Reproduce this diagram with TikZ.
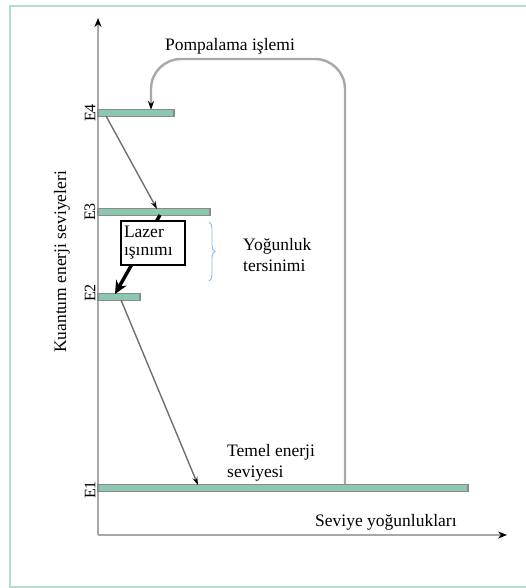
\documentclass[tikz,border=0pt]{standalone}
\usepackage{fontspec}
\setmainfont{Liberation Serif}
\usetikzlibrary{arrows.meta,decorations.pathreplacing}
\definecolor{framecol}{HTML}{B4DDD0}
\definecolor{barfill}{HTML}{8CC7B0}
\definecolor{bargray}{HTML}{8A8A8A}
\definecolor{axisgray}{HTML}{A8A8A8}
\definecolor{linegray}{HTML}{707070}
\definecolor{bracecol}{HTML}{8DB8E2}
\begin{document}
\begin{tikzpicture}[x=1pt,y=-1pt,
  every node/.style={font=\fontsize{17.5}{21}\selectfont},
  bar/.style={draw=bargray, line width=1.1pt, fill=barfill, minimum height=6.5pt, inner sep=0pt},
  axisline/.style={draw=axisgray, line width=2.6pt, -{Stealth[length=9pt,width=7pt,black]}},
  trans/.style={draw=linegray, line width=1.4pt, -{Stealth[length=8pt,width=5pt,black]}},
  pumpline/.style={draw=axisgray, line width=2.4pt, rounded corners=30pt, -{Stealth[length=9pt,width=6pt,black]}},
  lasertip/.style={draw=black, line width=3.4pt, -{Stealth[length=13pt,width=12pt]}},
  elabel/.style={rotate=90, font=\fontsize{16}{19}\selectfont, inner sep=0pt},
  txt/.style={align=left, inner sep=0pt, anchor=west}
]
\useasboundingbox (0,0) rectangle (525,588);
\fill[white] (0,0) rectangle (525,588);
\draw[framecol, line width=2pt] (535,6) -- (10,6) -- (10,587) -- (535,587);

% axes
\coordinate (origin) at (98,535);
\coordinate (ytop) at (98,18);
\coordinate (xend) at (507,535);
\draw[axisline] (origin) -- (ytop);
\draw[axisline] (origin) -- (xend);

% pumping path (behind bars)
\coordinate (pumpstart) at (345,485);
\coordinate (pumpend) at (151,110);
\draw[pumpline] (pumpstart) -- (345,59) -- (151,59) -- (pumpend);

% energy levels
\node[bar, minimum width=76pt] (E4) at (136,113) {};
\node[bar, minimum width=112pt] (E3) at (154,212) {};
\node[bar, minimum width=42pt] (E2) at (119,297) {};
\node[bar, minimum width=370pt] (E1) at (283,488) {};

\node[elabel] (lE4) at (90,113) {E4};
\node[elabel] (lE3) at (90,212) {E3};
\node[elabel] (lE2) at (90,293) {E2};
\node[elabel] (lE1) at (90,490) {E1};

\node[rotate=90, inner sep=0pt] (ylab) at (62,262) {Kuantum enerji seviyeleri};

% transitions
\coordinate (a4) at (106,116);
\coordinate (a3) at (157,209);
\draw[trans] (a4) -- (a3);
\coordinate (b2) at (121,300);
\coordinate (b1) at (198,485);
\draw[trans] (b2) -- (b1);

% laser transition
\coordinate (l3) at (160,215);
\coordinate (l2) at (115,294);
\draw[lasertip] (l3) -- (l2);
\node[draw=black, line width=1.3pt, fill=white, minimum width=64pt, minimum height=44pt, align=left, inner sep=2pt, text width=58pt] (laser) at (153,243) {Lazer\\[-3pt]ışınımı};

% brace
\coordinate (bt) at (209,222);
\coordinate (bb) at (209,281);
\draw[bracecol, line width=0.9pt, decorate, decoration={brace, amplitude=6pt}] (bt) -- (bb);

% texts
\node (pump) at (230,46) {Pompalama işlemi};
\node[txt] (inv) at (243,255) {Yoğunluk\\tersinimi};
\node[txt] (ground) at (227,463) {Temel enerji\\seviyesi};
\node[txt] (xlab) at (315,522) {Seviye yoğunlukları};
\end{tikzpicture}
\end{document}
